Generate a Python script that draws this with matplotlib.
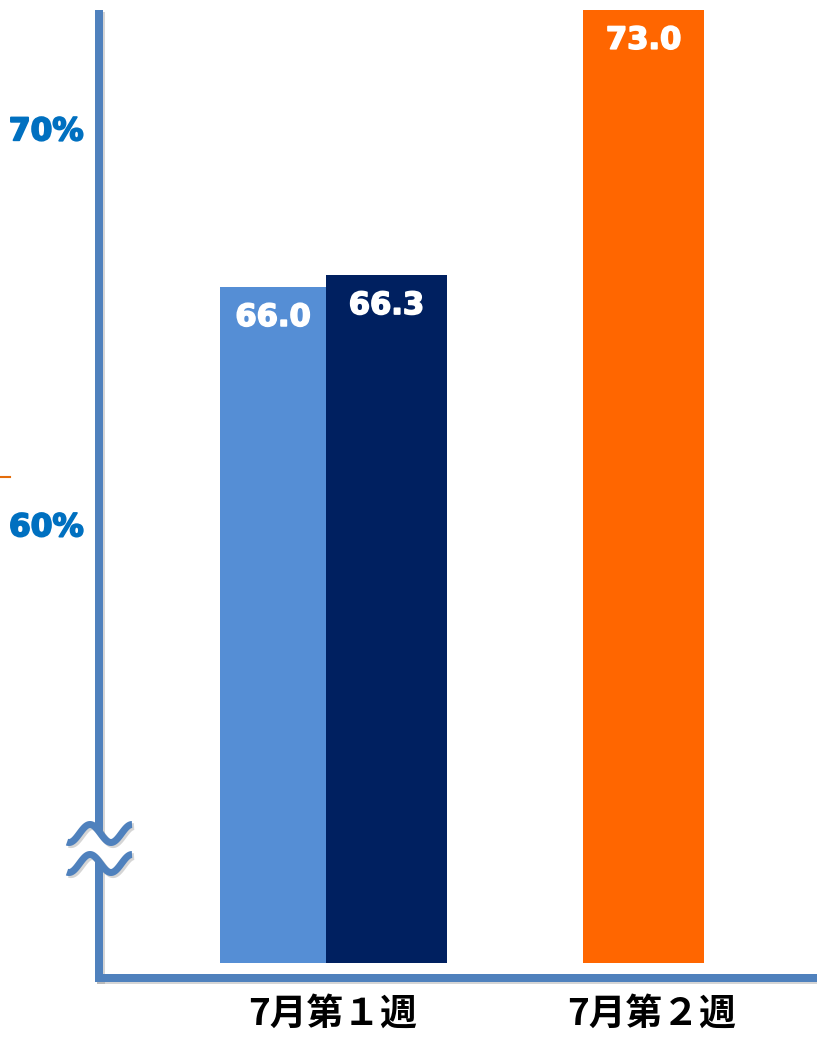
import matplotlib
matplotlib.use("Agg")
import matplotlib.pyplot as plt
import matplotlib.patheffects as pe
import matplotlib.transforms as mtrans
import numpy as np

# ---- data ----
categories = ["7月第１週", "7月第２週"]
series_names = ["A", "B", "C"]
values = [66.0, 66.3, 73.0]
value_labels = ["66.0", "66.3", "73.0"]
bar_colors = ["#558ED5", "#002060", "#FF6600"]
tick_values = [60, 70]
tick_labels = ["60%", "70%"]

W, H = 817, 1038
fig = plt.figure(figsize=(W / 100, H / 100), dpi=100)
fig.patch.set_facecolor("white")

ax_left, ax_right, ax_top, ax_bot = 99, 817, 10, 978
ax = fig.add_axes([ax_left / W, (H - ax_bot) / H, (ax_right - ax_left) / W, (ax_bot - ax_top) / H])
ax.set_facecolor("none")

BASE = 48.93
ax.set_ylim(48.55, 73.0)
ax.set_xlim(-0.7536, 1.5588)

xpos = [-0.193, 0.172, 1.0]
widths = [0.341, 0.390, 0.390]
for x, v, w, c, lab in zip(xpos, values, widths, bar_colors, value_labels):
    ax.bar(x, v - BASE, bottom=BASE, width=w, color=c, edgecolor="none", zorder=2)
    ax.annotate(lab, xy=(x, v), xytext=(0, -21.8), textcoords="offset points",
                ha="center", va="center", color="white", fontsize=22,
                fontweight="bold", family="DejaVu Sans", zorder=3,
                path_effects=[pe.withStroke(linewidth=1.2, foreground="white")])

for s in ax.spines.values():
    s.set_visible(False)

ax.set_yticks(tick_values)
ax.set_yticklabels(tick_labels, fontsize=22.5, fontweight="bold", color="#0070C0",
                   family="DejaVu Sans")
for t in ax.get_yticklabels():
    t.set_path_effects([pe.withStroke(linewidth=1.3, foreground="#0070C0")])
ax.tick_params(axis="y", length=0, pad=11)

ax.set_xticks([0, 1])
ax.set_xticklabels(categories, fontsize=26.5, fontweight="bold",
                   family=["Noto Sans CJK JP", "DejaVu Sans"], color="black")
ax.tick_params(axis="x", length=0, pad=13)
xl = ax.get_xticklabels()
xl[1].set_transform(xl[1].get_transform() + mtrans.ScaledTranslation(8 / 100, 0, fig.dpi_scale_trans))

# ---- decorative overlay (axis lines, break marks) in pixel coordinates ----
ov = fig.add_axes([0, 0, 1, 1])
ov.set_xlim(0, W)
ov.set_ylim(H, 0)
ov.axis("off")
ov.patch.set_alpha(0)

axis_color = "#4F81BD"
lw = 8 * 72 / 100
shadow = [pe.SimpleLineShadow(offset=(1.5, -1.5), shadow_color="#888888", alpha=0.35), pe.Normal()]

ov.plot([99, 99], [10, 832], color=axis_color, lw=lw, solid_capstyle="butt", path_effects=shadow)
ov.plot([99, 99], [862, 982], color=axis_color, lw=lw, solid_capstyle="butt", path_effects=shadow)
ov.plot([95, 817], [978, 978], color=axis_color, lw=lw, solid_capstyle="butt", path_effects=shadow)

xs = np.linspace(67, 132, 120)
for c in (833.5, 863.5):
    ys = c - 9 * np.cos(2 * np.pi * (xs - 90) / 42)
    ov.plot(xs, ys, color=axis_color, lw=7 * 72 / 100, solid_capstyle="butt",
            path_effects=shadow)

ov.plot([0, 10], [477, 477], color="#E46C0A", lw=1.5)

fig.savefig("out.png", dpi=100, facecolor="white")
